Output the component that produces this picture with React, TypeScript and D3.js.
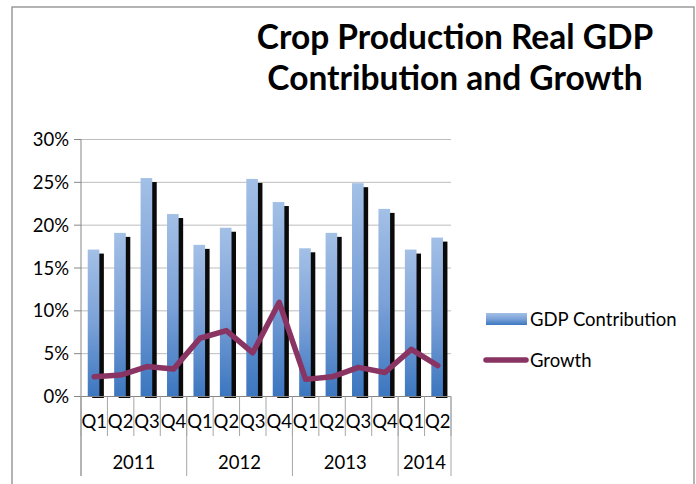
import React from "react";
import * as d3 from "d3";

const quarters = ["Q1", "Q2", "Q3", "Q4", "Q1", "Q2", "Q3", "Q4", "Q1", "Q2", "Q3", "Q4", "Q1", "Q2"];
const quarterYears = ["2011", "2011", "2011", "2011", "2012", "2012", "2012", "2012", "2013", "2013", "2013", "2013", "2014", "2014"];
const years = ["2011", "2012", "2013", "2014"];
const gdpContribution = [17.15, 19.1, 25.5, 21.3, 17.7, 19.7, 25.4, 22.7, 17.3, 19.1, 24.9, 21.9, 17.15, 18.55];
const growth = [2.3, 2.5, 3.5, 3.2, 6.8, 7.7, 5.1, 11.0, 2.0, 2.3, 3.4, 2.8, 5.5, 3.6];
const yTicks = [0, 5, 10, 15, 20, 25, 30];
const titleLines = ["Crop Production Real GDP", "Contribution and Growth"];
const seriesNames = ["GDP Contribution", "Growth"];

const W = 696;
const H = 484;
const FONT = "Lato, 'Open Sans', sans-serif";
const LABEL_SIZE = 18.5;

export default function App() {
  const ids = quarters.map((q, i) => `${quarterYears[i]}-${q}`);
  const x = d3.scaleBand<string>().domain(ids).range([81, 451]).padding(0);
  const y = d3.scaleLinear().domain([0, 30]).range([396.5, 139.5]);
  const bw = x.bandwidth();
  const barW = bw * 0.44;
  const barOff = bw * 0.255;
  const y0 = y(0);

  const line = d3
    .line<number>()
    .x((_, i) => (x(ids[i]) as number) + bw / 2)
    .y((d) => y(d));

  const yearGroups = years.map((yr) => {
    const idx = quarterYears.map((q, i) => (q === yr ? i : -1)).filter((i) => i >= 0);
    const start = x(ids[idx[0]]) as number;
    const end = (x(ids[idx[idx.length - 1]]) as number) + bw;
    return { yr, start, end };
  });

  const boundaries = ids.map((id) => x(id) as number).concat([x.range()[1]]);
  const yearBoundaries = yearGroups.map((g) => g.start).concat([yearGroups[yearGroups.length - 1].end]);

  return (
    <div style={{ position: "absolute", left: 0, top: 0 }}>
      <svg width={W} height={H} style={{ display: "block", background: "#fff" }}>
        <defs>
          <linearGradient id="barGrad" x1="0" y1="0" x2="0" y2="1">
            <stop offset="0" stopColor="#a3c0e6" />
            <stop offset="0.5" stopColor="#7ba1d8" />
            <stop offset="1" stopColor="#3b76bf" />
          </linearGradient>
        </defs>
        <rect x={12} y={7} width={682} height={H + 10} fill="#fff" stroke="#8c8c8c" strokeWidth={1.3} />

        {titleLines.map((t, i) => (
          <text
            key={t}
            x={455}
            y={49 + i * 41}
            textAnchor="middle"
            fontFamily={FONT}
            fontWeight={700}
            fontSize={33.5}
            fill="#000"
          >
            {t}
          </text>
        ))}

        {yTicks.map((t) => (
          <line key={t} x1={81} x2={451} y1={y(t)} y2={y(t)} stroke="#bdbdbd" strokeWidth={1} />
        ))}

        {yTicks.map((t) => (
          <g key={`yt${t}`}>
            <line x1={74} x2={81} y1={y(t)} y2={y(t)} stroke="#868686" strokeWidth={1} />
            <text
              x={69}
              y={y(t) + 6.5}
              textAnchor="end"
              fontFamily={FONT}
              fontSize={LABEL_SIZE}
              fill="#000"
            >
              {`${t}%`}
            </text>
          </g>
        ))}

        {gdpContribution.map((v, i) => (
          <rect
            key={`s${i}`}
            x={(x(ids[i]) as number) + barOff + 4.5}
            y={y(v) + 4}
            width={barW}
            height={y0 + 1.5 - (y(v) + 4)}
            fill="#0a0a0a"
          />
        ))}
        {gdpContribution.map((v, i) => (
          <rect
            key={`b${i}`}
            x={(x(ids[i]) as number) + barOff}
            y={y(v)}
            width={barW}
            height={y0 - y(v)}
            fill="url(#barGrad)"
          />
        ))}

        <line x1={81} x2={81} y1={139.5} y2={476} stroke="#868686" strokeWidth={1} />
        <line x1={81} x2={451} y1={y0} y2={y0} stroke="#868686" strokeWidth={1} />
        {boundaries.map((b, i) => (
          <line key={`qb${i}`} x1={b} x2={b} y1={y0} y2={436} stroke="#a6a6a6" strokeWidth={1} />
        ))}
        {yearBoundaries.map((b, i) => (
          <line key={`yb${i}`} x1={b} x2={b} y1={y0} y2={476} stroke="#a6a6a6" strokeWidth={1} />
        ))}

        {quarters.map((q, i) => (
          <text
            key={`ql${i}`}
            x={(x(ids[i]) as number) + bw / 2}
            y={427.5}
            textAnchor="middle"
            fontFamily={FONT}
            fontSize={LABEL_SIZE}
            fill="#000"
          >
            {q}
          </text>
        ))}
        {yearGroups.map((g) => (
          <text
            key={g.yr}
            x={(g.start + g.end) / 2}
            y={468.5}
            textAnchor="middle"
            fontFamily={FONT}
            fontSize={LABEL_SIZE}
            fill="#000"
          >
            {g.yr}
          </text>
        ))}

        <path
          d={line(growth) as string}
          fill="none"
          stroke="#893463"
          strokeWidth={5.5}
          strokeLinejoin="round"
          strokeLinecap="round"
        />

        <rect x={486} y={313} width={41} height={12} fill="url(#barGrad)" />
        <text x={530} y={325.5} fontFamily={FONT} fontSize={LABEL_SIZE} fill="#000">
          {seriesNames[0]}
        </text>
        <line x1={486} x2={526} y1={360} y2={360} stroke="#893463" strokeWidth={5.5} strokeLinecap="round" />
        <text x={530} y={366.5} fontFamily={FONT} fontSize={LABEL_SIZE} fill="#000">
          {seriesNames[1]}
        </text>
      </svg>
    </div>
  );
}
